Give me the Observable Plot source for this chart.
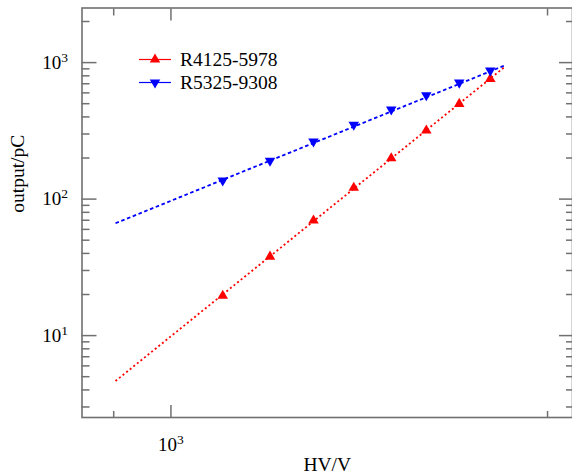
<!DOCTYPE html>
<html><head><meta charset="utf-8">
<script src="https://cdn.jsdelivr.net/npm/d3@7"></script>
<script src="https://cdn.jsdelivr.net/npm/@observablehq/plot@0.6"></script>
<style>body{margin:0;background:#fff} #chart{width:572px;height:476px}</style>
</head><body><div id="chart"></div>
<script>
// ---- data ----
const hv = [1100, 1200, 1300, 1400, 1500, 1600, 1700, 1800];
const r4125 = [19.6, 37.9, 69.6, 121, 199, 318, 498, 760];
const r5325 = [137, 191, 264, 351, 453, 576, 714, 874];
const fitHV = [903, 1847];
const fitR4125 = [4.65, 925];
const fitR5325 = [66.5, 950];
const seriesNames = ["R4125-5978", "R5325-9308"];
const seriesColors = ["#ff0000", "#0000ff"];
const xMajorTicks = [1000];
const xMinorTicks = [900, 2000];
const yMajorTicks = [10, 100, 1000];
const yMinorTicks = [3, 4, 5, 6, 7, 8, 9, 20, 30, 40, 50, 60, 70, 80, 90, 200, 300, 400, 500, 600, 700, 800, 900, 2000];

// ---- tables built from arrays ----
const pts1 = hv.map((h, i) => ({hv: h, v: r4125[i]}));
const pts2 = hv.map((h, i) => ({hv: h, v: r5325[i]}));
const fit1 = fitHV.map((h, i) => ({hv: h, v: fitR4125[i]}));
const fit2 = fitHV.map((h, i) => ({hv: h, v: fitR5325[i]}));
const powLabel = d => "10^" + Math.round(Math.log10(d));

const axisGray = "#707070";
const font = "'Liberation Serif', 'Times New Roman', serif";
const blank = () => "";

const plot = Plot.plot({
  width: 572, height: 476,
  marginLeft: 81.5, marginRight: 0, marginTop: 7.5, marginBottom: 59,
  style: {fontFamily: font, background: "#fff", color: "#000"},
  x: {type: "log", domain: [849, 2094]},
  y: {type: "log", domain: [Math.pow(10, 0.4), Math.pow(10, 3.4)]},
  marks: [
    Plot.frame({stroke: axisGray, strokeWidth: 1.6}),
    // inward ticks
    Plot.axisX(xMajorTicks, {anchor: "bottom", tickSize: -12, tickFormat: blank, label: null, stroke: axisGray, strokeWidth: 1.5}),
    Plot.axisX(xMinorTicks, {anchor: "bottom", tickSize: -6, tickFormat: blank, label: null, stroke: axisGray, strokeWidth: 1.5}),
    Plot.axisX(xMajorTicks, {anchor: "top", tickSize: -12, tickFormat: blank, label: null, stroke: axisGray, strokeWidth: 1.5}),
    Plot.axisX(xMinorTicks, {anchor: "top", tickSize: -7, tickFormat: blank, label: null, stroke: axisGray, strokeWidth: 1.5}),
    Plot.axisY(yMajorTicks, {anchor: "left", tickSize: -15, tickFormat: blank, label: null, stroke: axisGray, strokeWidth: 1.5}),
    Plot.axisY(yMinorTicks, {anchor: "left", tickSize: -8, tickFormat: blank, label: null, stroke: axisGray, strokeWidth: 1.5}),
    Plot.axisY(yMajorTicks, {anchor: "right", tickSize: -14, tickFormat: blank, label: null, stroke: axisGray, strokeWidth: 1.5}),
    Plot.axisY(yMinorTicks, {anchor: "right", tickSize: -7, tickFormat: blank, label: null, stroke: axisGray, strokeWidth: 1.5}),
    // tick labels (superscripts applied after render)
    Plot.axisX(xMajorTicks, {anchor: "bottom", tickSize: 0, tickPadding: 20, tickFormat: powLabel, label: null, fontSize: 19, fill: "#000"}),
    Plot.axisY(yMajorTicks, {anchor: "left", tickSize: 0, tickPadding: 14, tickFormat: powLabel, label: null, fontSize: 19, fill: "#000"}),
    // axis titles
    Plot.text(["HV/V"], {frameAnchor: "bottom", dy: 47, lineAnchor: "middle", fontSize: 19.5, fill: "#000"}),
    Plot.text(["output/pC"], {frameAnchor: "left", dx: -64, rotate: -90, lineAnchor: "middle", fontSize: 19.5, fill: "#000"}),
    // fit lines
    Plot.line(fit1, {x: "hv", y: "v", stroke: seriesColors[0], strokeWidth: 1.8, strokeDasharray: "2,2.6", strokeLinecap: "butt"}),
    Plot.line(fit2, {x: "hv", y: "v", stroke: seriesColors[1], strokeWidth: 1.8, strokeDasharray: "3.6,2.6", strokeLinecap: "butt"}),
    // data points
    Plot.dot(pts1, {x: "hv", y: "v", symbol: "triangle", r: 3.9, fill: seriesColors[0], stroke: "none"}),
    Plot.dot(pts2, {x: "hv", y: "v", symbol: "triangle", rotate: 180, r: 3.9, fill: seriesColors[1], stroke: "none"})
  ]
});
document.getElementById("chart").appendChild(plot);

const svg = d3.select(plot);
// ---- superscript tick labels ----
svg.selectAll("text").each(function() {
  const t = d3.select(this);
  const m = /^10\^(\d)$/.exec(t.text());
  if (!m) return;
  t.text("10");
  t.append("tspan").attr("font-size", 13.5).attr("dy", "-0.5em").text(m[1]);
});

// ---- legend (inside plot area, top-left) ----
const leg = svg.append("g");
seriesNames.forEach((name, i) => {
  const y = 59.5 + i * 23;
  leg.append("line").attr("x1", 139).attr("x2", 171).attr("y1", y).attr("y2", y)
    .attr("stroke", seriesColors[i]).attr("stroke-width", 1.2);
  leg.append("path").attr("d", d3.symbol(d3.symbolTriangle, Math.PI * 3.9 * 3.9)())
    .attr("transform", `translate(155,${y}) rotate(${i ? 180 : 0})`)
    .attr("fill", seriesColors[i]);
  leg.append("text").attr("x", 180).attr("y", y).attr("dy", "0.35em")
    .style("font-family", font).style("font-size", "19.5px").style("text-anchor", "start")
    .attr("fill", "#000").text(name);
});
</script>
</body></html>
